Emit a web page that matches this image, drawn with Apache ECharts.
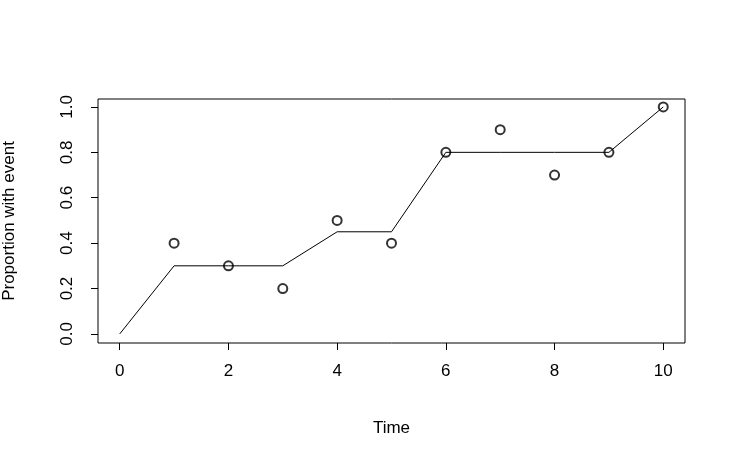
<!DOCTYPE html>
<html>
<head>
  <meta charset="utf-8">
  <title>Proportion with event</title>
  <script src="https://cdn.jsdelivr.net/npm/echarts@6/dist/echarts.min.js"></script>
</head>
<body style="margin:0">
  <div id="map" style="width:735px;height:466px;"></div>
  <script>
    // observed points
    var pointX = [1, 2, 3, 4, 5, 6, 7, 8, 9, 10];
    var pointY = [0.4, 0.3, 0.2, 0.5, 0.4, 0.8, 0.9, 0.7, 0.8, 1.0];
    // fitted line
    var lineX = [0, 1, 2, 3, 4, 5, 6, 7, 8, 9, 10];
    var lineY = [0, 0.3, 0.3, 0.3, 0.45, 0.45, 0.8, 0.8, 0.8, 0.8, 1.0];
    var xTicks = [0, 2, 4, 6, 8, 10];
    var yTicks = [0, 0.2, 0.4, 0.6, 0.8, 1.0];

    var myChart = echarts.init(document.getElementById('map'));
    var font = { color: '#000', fontSize: 17, fontFamily: 'Liberation Sans, Arial' };
    option = {
      backgroundColor: '#fff',
      animation: false,
      grid: { left: 98, top: 99, width: 587, height: 244, show: true, borderColor: '#000', borderWidth: 1,
              containLabel: false, outerBoundsMode: 'none' },
      xAxis: {
        type: 'value', min: -0.4, max: 10.4,
        name: 'Time', nameLocation: 'middle', nameGap: 77, nameTextStyle: font,
        axisLine: { show: false, onZero: false },
        splitLine: { show: false },
        axisTick: { show: true, length: 7, lineStyle: { color: '#000' }, customValues: xTicks },
        axisLabel: Object.assign({ margin: 20, customValues: xTicks }, font)
      },
      yAxis: {
        type: 'value', min: -0.04, max: 1.035,
        name: 'Proportion with event', nameLocation: 'middle', nameGap: 80, nameTextStyle: font,
        axisLine: { show: false, onZero: false },
        splitLine: { show: false },
        axisTick: { show: true, length: 7, lineStyle: { color: '#000' }, customValues: yTicks },
        axisLabel: Object.assign({
          margin: 22, rotate: 90, customValues: yTicks,
          formatter: function (v) { return v.toFixed(1); }
        }, font)
      },
      series: [
        {
          type: 'line',
          data: lineX.map(function (x, i) { return [x, lineY[i]]; }),
          showSymbol: false,
          lineStyle: { color: '#000', width: 1 }
        },
        {
          type: 'scatter',
          data: pointX.map(function (x, i) { return [x, pointY[i]]; }),
          symbol: 'emptyCircle', symbolSize: 9,
          itemStyle: { color: '#000', borderColor: '#000', borderWidth: 1 }
        }
      ]
    };
    myChart.setOption(option);
  </script>
</body>
</html>
